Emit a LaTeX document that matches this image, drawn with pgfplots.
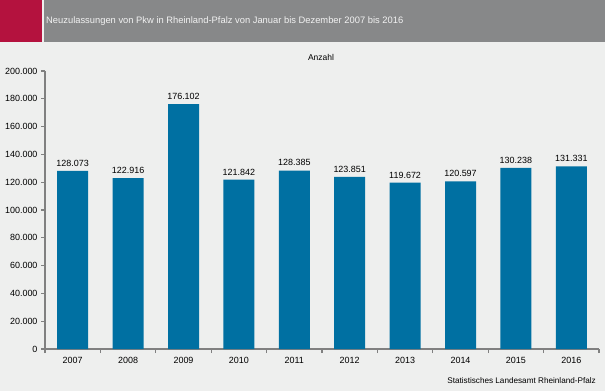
\documentclass[border=0pt]{standalone}
\usepackage{pgfplots}
\pgfplotsset{compat=1.18}
\usepackage{fontspec}
\setmainfont{Liberation Sans}
\definecolor{bg}{RGB}{238,239,238}
\definecolor{hdrgray}{RGB}{135,136,137}
\definecolor{hdrred}{RGB}{180,18,62}
\definecolor{barblue}{RGB}{0,112,162}
\definecolor{axgray}{RGB}{128,128,128}
\begin{document}
\begin{tikzpicture}[x=1bp,y=1bp]
\fill[bg] (0,0) rectangle (605,391);
\fill[hdrred] (0,349) rectangle (42,391);
\fill[hdrgray] (44,349) rectangle (605,391);
\node[anchor=west, text=white!95!black, font=\fontsize{9.4}{11}\selectfont, inner sep=0] at (46,370) {Neuzulassungen von Pkw in Rheinland-Pfalz von Januar bis Dezember 2007 bis 2016};
\node[font=\fontsize{8.5}{10}\selectfont, inner sep=0] at (321,334) {Anzahl};
\node[anchor=east, font=\fontsize{8.2}{9}\selectfont, inner sep=0] at (596,10) {Statistisches Landesamt Rheinland-Pfalz};
\begin{axis}[
  at={(45bp,42bp)}, anchor=south west,
  scale only axis, width=554bp, height=278bp,
  xmin=-0.5, xmax=9.5, ymin=0, ymax=200000,
  axis x line=bottom, axis y line=left,
  axis line style={draw=axgray, line width=1.6bp, -},
  xtick={0,...,9},
  xticklabels={2007,2008,2009,2010,2011,2012,2013,2014,2015,2016},
  minor xtick={-0.5,0.5,...,9.5},
  major x tick style={draw=none},
  minor x tick style={draw=axgray, line width=1.2bp},
  minor tick length=4bp,
  ytick={0,20000,...,200000},
  y tick style={draw=axgray, line width=1.2bp},
  major tick length=4bp,
  tick align=outside,
  scaled y ticks=false,
  yticklabel style={/pgf/number format/.cd, 1000 sep={.}, fixed, assume math mode=true},
  ticklabel style={font=\fontsize{9}{10}\selectfont},
  xticklabel style={yshift=-1bp},
  ybar, bar width=31bp,
  nodes near coords,
  point meta=explicit symbolic,
  every node near coord/.append style={font=\fontsize{9}{10}\selectfont, yshift=1bp},
  clip=false,
]
\addplot[fill=barblue, draw=none] table[meta=lab] {
x y lab
0 128073 128.073
1 122916 122.916
2 176102 176.102
3 121842 121.842
4 128385 128.385
5 123851 123.851
6 119672 119.672
7 120597 120.597
8 130238 130.238
9 131331 131.331
};
\end{axis}
\pgfresetboundingbox
\useasboundingbox (0,0) rectangle (605,391);
\end{tikzpicture}
\end{document}
